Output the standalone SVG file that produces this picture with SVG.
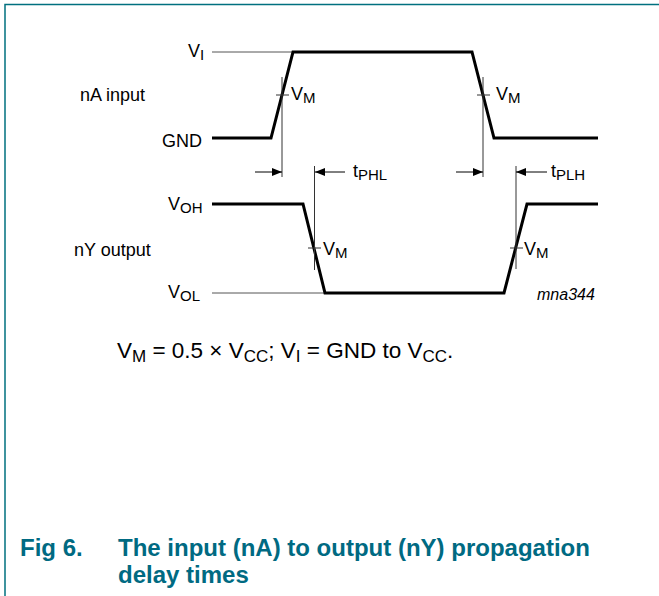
<svg xmlns="http://www.w3.org/2000/svg" width="659" height="596" viewBox="0 0 659 596">
<defs>
<style>
.lbl{font-family:"Liberation Sans",Arial,sans-serif;font-size:18px;fill:#000}
.sub{font-size:15px}
.eq{font-family:"Liberation Sans",Arial,sans-serif;font-size:22.5px;fill:#000}
.esub{font-size:17px}
.wave{fill:none;stroke:#000;stroke-width:3;stroke-linejoin:miter}
.ref{fill:none;stroke:#555;stroke-width:1}
.tick{fill:none;stroke:#333;stroke-width:1}
.arr{fill:none;stroke:#000;stroke-width:1}
.cap{font-family:"Liberation Sans",Arial,sans-serif;font-size:24px;font-weight:bold;fill:#006a82}
.frame{fill:none;stroke:#00707f;stroke-width:1.5}
</style>
<marker id="ah" viewBox="0 0 10 8" refX="10" refY="4" markerWidth="10" markerHeight="8" markerUnits="userSpaceOnUse" orient="auto">
<path d="M0,0 L10,4 L0,8 Z" fill="#000"/>
</marker>
</defs>
<rect width="659" height="596" fill="#fff"/>
<path class="frame" d="M5,596 V4.5 H659"/>

<g id="input-wave">
<line class="ref" x1="212" y1="52" x2="292" y2="52"/>
<polyline class="wave" points="212,138 271,138 293,52 472,52 494,138 598,138"/>
<text class="lbl" x="188" y="57">V<tspan class="sub" dy="3">I</tspan></text>
<text class="lbl" x="80" y="101">nA input</text>
<text class="lbl" x="162" y="147">GND</text>
</g>

<g id="output-wave">
<line class="ref" x1="212" y1="293" x2="324" y2="293"/>
<polyline class="wave" points="212,204 303,204 325,293 504,293 527,204 598,204"/>
<text class="lbl" x="168" y="210">V<tspan class="sub" dy="3">OH</tspan></text>
<text class="lbl" x="74" y="256">nY output</text>
<text class="lbl" x="168" y="298">V<tspan class="sub" dy="3">OL</tspan></text>
<text class="lbl" x="537" y="300" style="font-style:italic;font-size:16px">mna344</text>
</g>

<g id="vm-markers">
<line class="tick" x1="282" y1="77" x2="282" y2="177"/>
<line class="tick" x1="276" y1="95" x2="289" y2="95"/>
<text class="lbl" x="291" y="100">V<tspan class="sub" dy="3">M</tspan></text>
<line class="tick" x1="483" y1="77" x2="483" y2="177"/>
<line class="tick" x1="477" y1="95" x2="490" y2="95"/>
<text class="lbl" x="496" y="100">V<tspan class="sub" dy="3">M</tspan></text>
<line class="tick" x1="314.5" y1="166" x2="314.5" y2="270"/>
<line class="tick" x1="308" y1="248" x2="321" y2="248"/>
<text class="lbl" x="323" y="255">V<tspan class="sub" dy="3">M</tspan></text>
<line class="tick" x1="516" y1="166" x2="516" y2="269"/>
<line class="tick" x1="510" y1="248" x2="523" y2="248"/>
<text class="lbl" x="524" y="255">V<tspan class="sub" dy="3">M</tspan></text>
</g>

<g id="connectors">
<line class="arr" x1="255" y1="172" x2="282" y2="172" marker-end="url(#ah)"/>
<line class="arr" x1="345" y1="172" x2="315" y2="172" marker-end="url(#ah)"/>
<line class="arr" x1="456" y1="172" x2="483" y2="172" marker-end="url(#ah)"/>
<line class="arr" x1="547" y1="172" x2="516" y2="172" marker-end="url(#ah)"/>
</g>

<g id="timing-labels">
<text class="lbl" x="353" y="177">t<tspan class="sub" dy="3">PHL</tspan></text>
<text class="lbl" x="551" y="177">t<tspan class="sub" dy="3">PLH</tspan></text>
</g>

<g id="equation">
<text class="eq" x="117" y="358">V<tspan class="esub" dy="4">M</tspan><tspan dy="-4"> = 0.5 × V</tspan><tspan class="esub" dy="4">CC</tspan><tspan dy="-4">; V</tspan><tspan class="esub" dy="4">I</tspan><tspan dy="-4"> = GND to V</tspan><tspan class="esub" dy="4">CC</tspan><tspan dy="-4">.</tspan></text>
</g>

<g id="caption">
<text class="cap" x="20" y="556">Fig 6.</text>
<text class="cap" x="118" y="556">The input (nA) to output (nY) propagation</text>
<text class="cap" x="118" y="583">delay times</text>
</g>
</svg>
